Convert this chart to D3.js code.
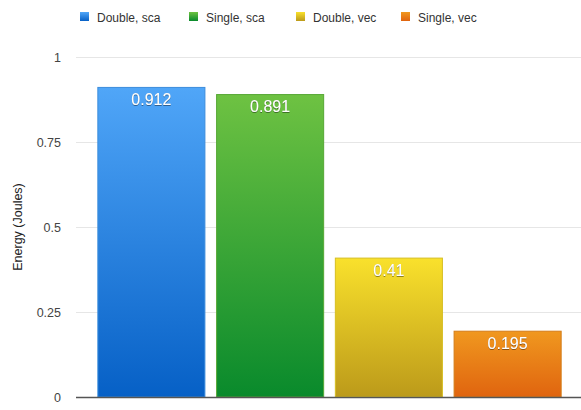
<!DOCTYPE html>
<html><head><meta charset="utf-8">
<script src="https://cdn.jsdelivr.net/npm/d3@7"></script>
<style>body{margin:0;background:#fff;}svg{display:block;font-family:"Liberation Sans",Arial,sans-serif;}</style>
</head><body>
<svg id="c" width="581" height="410"></svg>
<script>
const categories = ["Double, sca", "Single, sca", "Double, vec", "Single, vec"];
const values = [0.912, 0.891, 0.41, 0.195];
const valueLabels = ["0.912", "0.891", "0.41", "0.195"];
const yTicks = [0, 0.25, 0.5, 0.75, 1];
const yTickLabels = ["0", "0.25", "0.5", "0.75", "1"];
const topColors = ["#50a6f8", "#6ec242", "#f9e12c", "#f0981f"];
const bottomColors = ["#0660c6", "#098a2c", "#bc9a1a", "#e0640f"];
const borderColors = ["#3c8ddc", "#56a834", "#d6be22", "#d47d18"];

const svg = d3.select("#c");
const y = d3.scaleLinear().domain([0, 1]).range([397, 57]);
const x = d3.scaleBand().domain(categories).range([92, 567]).paddingInner(0.09).paddingOuter(0.045);

const defs = svg.append("defs");
categories.forEach((c, i) => {
  const g = defs.append("linearGradient").attr("id", "g" + i).attr("x1", 0).attr("y1", 0).attr("x2", 0).attr("y2", 1);
  g.append("stop").attr("offset", "0%").attr("stop-color", topColors[i]);
  g.append("stop").attr("offset", "100%").attr("stop-color", bottomColors[i]);
});
const f = defs.append("filter").attr("id", "sh").attr("x", "-20%").attr("y", "-20%").attr("width", "140%").attr("height", "140%");
f.append("feDropShadow").attr("dx", 0).attr("dy", 0.5).attr("stdDeviation", 0.7).attr("flood-color", "#000").attr("flood-opacity", 0.8);

// gridlines
svg.append("g").selectAll("line").data(yTicks.filter(d => d > 0)).join("line")
  .attr("x1", 76).attr("x2", 581).attr("y1", d => y(d) + 0.5).attr("y2", d => y(d) + 0.5)
  .attr("stroke", "#e6e6e6").attr("stroke-width", 1);

// y tick labels
svg.append("g").selectAll("text").data(yTicks).join("text")
  .attr("x", 61).attr("y", d => y(d) + 4.5).attr("text-anchor", "end")
  .attr("font-size", 12.5).attr("fill", "#444").text((d, i) => yTickLabels[i]);

// y title
svg.append("text").attr("transform", "translate(22,227) rotate(-90)").attr("text-anchor", "middle")
  .attr("font-size", 12.5).attr("fill", "#222").text("Energy (Joules)");

// bars
svg.append("g").selectAll("rect").data(values).join("rect")
  .attr("x", (d, i) => x(categories[i]) + 0.5).attr("y", d => y(d) + 0.5)
  .attr("width", x.bandwidth() - 1).attr("height", d => y(0) - y(d) - 0.5)
  .attr("fill", (d, i) => `url(#g${i})`).attr("stroke", (d, i) => borderColors[i]).attr("stroke-width", 1);

// value labels
svg.append("g").selectAll("text").data(values).join("text")
  .attr("x", (d, i) => x(categories[i]) + x.bandwidth() / 2).attr("y", d => y(d) + 18)
  .attr("text-anchor", "middle").attr("font-size", 16).attr("fill", "#fff").attr("filter", "url(#sh)")
  .text((d, i) => valueLabels[i]);

// baseline
svg.append("line").attr("x1", 76).attr("x2", 581).attr("y1", y(0) + 0.5).attr("y2", y(0) + 0.5)
  .attr("stroke", "#555").attr("stroke-width", 1.5);

// legend
const legX = [80, 189, 296, 401];
const lg = svg.append("g").selectAll("g").data(categories).join("g")
  .attr("transform", (d, i) => `translate(${legX[i]},12)`);
lg.append("rect").attr("width", 9).attr("height", 9).attr("fill", (d, i) => `url(#g${i})`);
lg.append("text").attr("x", 17).attr("y", 9.5).attr("font-size", 12).attr("fill", "#333").text(d => d);
</script>
</body></html>
